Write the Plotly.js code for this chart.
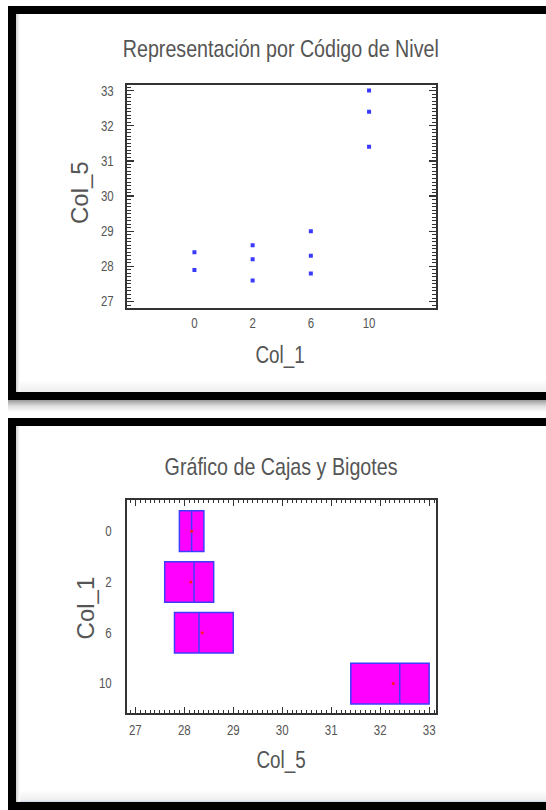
<!DOCTYPE html>
<html>
<head>
<meta charset="utf-8">
<script src="https://cdn.plot.ly/plotly-3.0.1.min.js"></script>
<style>
  html, body { margin: 0; padding: 0; background: #ffffff; }
  #page { position: relative; width: 546px; height: 810px; overflow: hidden; background: #ffffff; }
  .panel { position: absolute; left: 8px; width: 560px; border-left: 8px solid #000; border-top: 8px solid #000; border-bottom: 8px solid #000; background: #ffffff; box-sizing: border-box; }
  #p1 { top: 6px; height: 394px; background: linear-gradient(to bottom, #ffffff 0px, #ffffff 366px, #eeeeee 378px); }
  #p2 { top: 418px; height: 392px; background: linear-gradient(to bottom, #ffffff 0px, #ffffff 364px, #efefef 374px, #c9d6e6 376px); }
  .lshade { position: absolute; left: 0; top: 0; bottom: 0; width: 4px; background: linear-gradient(to right, #cfcfcf, #ffffff); }
  #gap { position: absolute; left: 8px; right: 0; top: 400px; height: 18px; background: linear-gradient(to bottom, #9a9a9a 0px, #dedede 6px, #ffffff 12px); }
  #chart { position: absolute; left: 0; top: 0; width: 546px; height: 810px; }
</style>
</head>
<body>
<div id="page">
  <div class="panel" id="p1"><div class="lshade"></div></div>
  <div id="gap"></div>
  <div class="panel" id="p2"><div class="lshade"></div></div>
  <div id="chart"></div>
</div>
<script>
// ---- data ----
const levelCodes = ['0', '2', '6', '10'];          // Col_1 levels
const col5Level0  = [28.4, 27.9];                   // Col_5 values at Col_1 = 0
const col5Level2  = [28.6, 28.2, 27.6];             // Col_1 = 2
const col5Level6  = [29.0, 28.3, 27.8];             // Col_1 = 6
const col5Level10 = [33.0, 32.4, 31.4];             // Col_1 = 10
const col5TickVals = [27, 28, 29, 30, 31, 32, 33];
const titleTop = 'Representación por Código de Nivel';
const titleBottom = 'Gráfico de Cajas y Bigotes';
const nameX = 'Col_1';
const nameY = 'Col_5';

const groups = [col5Level0, col5Level2, col5Level6, col5Level10];
const xs = [], ys = [];
groups.forEach((g, i) => g.forEach(v => { xs.push(levelCodes[i]); ys.push(v); }));
const means = groups.map(g => g.reduce((a, b) => a + b, 0) / g.length);

const font = 'Liberation Sans, Arial, sans-serif';
const txt = '#555555';
const W = 546, H = 810;
const px = v => v / W;
const py = v => 1 - v / H;

const scatter = {
  type: 'scatter', mode: 'markers', x: xs, y: ys, xaxis: 'x', yaxis: 'y',
  marker: { symbol: 'square', size: 4, color: '#3a3aff' },
  hoverinfo: 'x+y', showlegend: false
};
const box = {
  type: 'box', orientation: 'h', x: ys, y: xs, xaxis: 'x2', yaxis: 'y2',
  quartilemethod: 'exclusive', boxpoints: false, width: 0.8, whiskerwidth: 0,
  fillcolor: '#ff00ff', line: { color: '#3d3dff', width: 1.5 }, showlegend: false
};
const meanDots = {
  type: 'scatter', mode: 'markers', x: means, y: levelCodes, xaxis: 'x2', yaxis: 'y2',
  marker: { symbol: 'circle', size: 3, color: '#ff1a1a' }, showlegend: false
};

const tickFont = { family: font, size: 14, color: txt };
const frame = { showline: true, linecolor: '#333333', linewidth: 2, mirror: true, zeroline: false, showgrid: false };

const layout = {
  width: W, height: H, margin: { l: 0, r: 0, t: 0, b: 0 },
  paper_bgcolor: 'rgba(0,0,0,0)', plot_bgcolor: 'rgba(0,0,0,0)',
  showlegend: false,
  xaxis: Object.assign({}, frame, {
    domain: [px(126.5), px(436)], anchor: 'y', type: 'category',
    categoryorder: 'array', categoryarray: levelCodes, range: [-1.167, 4.15],
    ticks: '', tickfont: tickFont, ticklabelstandoff: 2
  }),
  yaxis: Object.assign({}, frame, {
    domain: [py(307.5), py(85)], anchor: 'x', range: [26.83, 33.16],
    tickvals: col5TickVals, ticks: 'inside', ticklen: 7, tickwidth: 1.2, tickcolor: '#333333',
    mirror: 'allticks', tickfont: tickFont, ticklabelstandoff: 8,
    minor: { dtick: 0.1, ticks: 'inside', ticklen: 4, tickwidth: 1, tickcolor: '#333333' }
  }),
  xaxis2: Object.assign({}, frame, {
    domain: [px(126.5), px(436)], anchor: 'y2', range: [26.82, 33.14],
    tickvals: col5TickVals, ticks: 'inside', ticklen: 6, tickwidth: 1.2, tickcolor: '#333333',
    mirror: 'allticks', tickfont: tickFont, ticklabelstandoff: 4,
    minor: { dtick: 0.1, ticks: 'inside', ticklen: 3, tickwidth: 1, tickcolor: '#333333' }
  }),
  yaxis2: Object.assign({}, frame, {
    domain: [py(712.7), py(500)], anchor: 'x2', type: 'category',
    categoryorder: 'array', categoryarray: levelCodes, range: [3.573, -0.614],
    ticks: '', tickfont: tickFont, ticklabelstandoff: 10
  }),
  annotations: [
    { text: titleTop, xref: 'paper', yref: 'paper', x: px(281.5), y: py(49), xanchor: 'center', yanchor: 'middle', showarrow: false, font: { family: font, size: 24, color: txt } },
    { text: nameX, xref: 'paper', yref: 'paper', x: px(280), y: py(355), xanchor: 'center', yanchor: 'middle', showarrow: false, font: { family: font, size: 23, color: txt } },
    { text: nameY, xref: 'paper', yref: 'paper', x: px(79), y: py(193), xanchor: 'center', yanchor: 'middle', textangle: -90, showarrow: false, font: { family: font, size: 24, color: txt } },
    { text: titleBottom, xref: 'paper', yref: 'paper', x: px(281), y: py(466.5), xanchor: 'center', yanchor: 'middle', showarrow: false, font: { family: font, size: 24, color: txt } },
    { text: nameY, xref: 'paper', yref: 'paper', x: px(281.5), y: py(760), xanchor: 'center', yanchor: 'middle', showarrow: false, font: { family: font, size: 23, color: txt } },
    { text: nameX, xref: 'paper', yref: 'paper', x: px(85.4), y: py(608), xanchor: 'center', yanchor: 'middle', textangle: -90, showarrow: false, font: { family: font, size: 24, color: txt } }
  ]
};

// the reference text is narrow (condensed): squeeze horizontal text along its writing direction
function condense(el, k, anchor) {
  const b = el.getBBox();
  const cx = anchor === 'end' ? b.x + b.width : b.x + b.width / 2;
  const prev = el.getAttribute('transform') || '';
  el.setAttribute('transform', (prev + ' translate(' + cx + ' 0) scale(' + k + ' 1) translate(' + (-cx) + ' 0)').trim());
}

Plotly.newPlot('chart', [scatter, box, meanDots], layout, { displayModeBar: false, staticPlot: true }).then(gd => {
  const anns = gd.querySelectorAll('.annotation');
  anns.forEach((a, i) => {
    if (i === 2 || i === 5) return; // rotated titles keep full length
    const t = a.querySelector('text.annotation-text');
    if (t) condense(t, 0.82, 'middle');
  });
  gd.querySelectorAll('.xtick text').forEach(t => condense(t, 0.82, 'middle'));
  gd.querySelectorAll('.x2tick text').forEach(t => condense(t, 0.82, 'middle'));
  gd.querySelectorAll('.ytick text').forEach(t => condense(t, 0.82, 'end'));
  gd.querySelectorAll('.y2tick text').forEach(t => condense(t, 0.82, 'end'));
});
</script>
</body>
</html>
